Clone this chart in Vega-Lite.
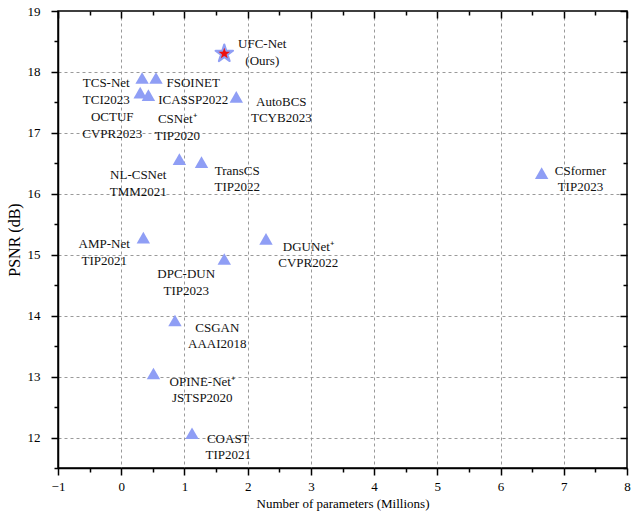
{
  "$schema": "https://vega.github.io/schema/vega-lite/v6.json",
  "width": 569,
  "height": 457,
  "autosize": {"type": "none"},
  "padding": {"left": 58, "top": 11, "right": 8, "bottom": 50},
  "background": "white",
  "config": {
    "view": {"stroke": "black", "strokeWidth": 1.5},
    "axis": {
      "labelFont": "Liberation Serif",
      "labelFontSize": 13,
      "labelColor": "black",
      "titleFont": "Liberation Serif",
      "titleFontSize": 13,
      "titleFontWeight": "normal",
      "titleColor": "black",
      "domainColor": "black",
      "domainWidth": 1.5,
      "tickColor": "black",
      "tickWidth": 1.5,
      "gridColor": "#9a9a9a",
      "gridDash": [3, 3],
      "gridWidth": 1
    }
  },
  "datasets": {
    "points": [
      {"name": "UFC-Net", "x": 1.63, "y": 18.30, "kind": "star"},
      {"name": "TCS-Net", "x": 0.33, "y": 17.90, "kind": "tri"},
      {"name": "FSOINET", "x": 0.55, "y": 17.90, "kind": "tri"},
      {"name": "OCTUF", "x": 0.30, "y": 17.66, "kind": "tri"},
      {"name": "CSNet+", "x": 0.43, "y": 17.62, "kind": "tri"},
      {"name": "AutoBCS", "x": 1.82, "y": 17.59, "kind": "tri"},
      {"name": "NL-CSNet", "x": 0.92, "y": 16.57, "kind": "tri"},
      {"name": "TransCS", "x": 1.27, "y": 16.52, "kind": "tri"},
      {"name": "AMP-Net", "x": 0.35, "y": 15.28, "kind": "tri"},
      {"name": "DGUNet+", "x": 2.29, "y": 15.26, "kind": "tri"},
      {"name": "DPC-DUN", "x": 1.63, "y": 14.93, "kind": "tri"},
      {"name": "CSGAN", "x": 0.85, "y": 13.92, "kind": "tri"},
      {"name": "OPINE-Net+", "x": 0.51, "y": 13.05, "kind": "tri"},
      {"name": "COAST", "x": 1.12, "y": 12.07, "kind": "tri"},
      {"name": "CSformer", "x": 6.65, "y": 16.34, "kind": "tri"}
    ],
    "labels": [
      {"label": "UFC-Net\n(Ours)", "x": 2.231, "y": 18.451},
      {"label": "TCS-Net\nTCI2023", "x": -0.237, "y": 17.811},
      {"label": "FSOINET\nICASSP2022", "x": 1.139, "y": 17.811},
      {"label": "OCTUF\nCVPR2023", "x": -0.142, "y": 17.254},
      {"label": "CSNet⁺\nTIP2020", "x": 0.886, "y": 17.221},
      {"label": "AutoBCS\nTCYB2023", "x": 2.532, "y": 17.508},
      {"label": "NL-CSNet\nTMM2021", "x": 0.269, "y": 16.303},
      {"label": "TransCS\nTIP2022", "x": 1.835, "y": 16.377},
      {"label": "AMP-Net\nTIP2021", "x": -0.269, "y": 15.172},
      {"label": "DGUNet⁺\nCVPR2022", "x": 2.959, "y": 15.131},
      {"label": "DPC-DUN\nTIP2023", "x": 1.028, "y": 14.68},
      {"label": "CSGAN\nAAAI2018", "x": 1.519, "y": 13.803},
      {"label": "OPINE-Net⁺\nJSTSP2020", "x": 1.282, "y": 12.918},
      {"label": "COAST\nTIP2021", "x": 1.693, "y": 11.984},
      {"label": "CSformer\nTIP2023", "x": 7.263, "y": 16.377}
    ]
  },
  "resolve": {"axis": {"x": "independent", "y": "independent"}},
  "layer": [
    {
      "data": {"name": "points"},
      "transform": [{"filter": "datum.kind === 'tri'"}],
      "mark": {"type": "point", "shape": "triangle-up", "filled": true, "size": 180, "color": "#8f9ef5", "opacity": 1},
      "encoding": {
        "x": {
          "field": "x", "type": "quantitative",
          "scale": {"domain": [-1, 8], "nice": false, "zero": false},
          "axis": {
            "orient": "bottom",
            "title": "Number of parameters (Millions)",
            "values": [-1, -0.5, 0, 0.5, 1, 1.5, 2, 2.5, 3, 3.5, 4, 4.5, 5, 5.5, 6, 6.5, 7, 7.5, 8],
            "labelExpr": "datum.value % 1 === 0 ? format(datum.value, 'd') : ''",
            "tickSize": {"condition": {"test": "datum.value % 1 === 0", "value": 7}, "value": 4},
            "grid": true,
            "gridOpacity": {"condition": {"test": "datum.value % 1 === 0 && datum.value > -1 && datum.value < 8", "value": 1}, "value": 0},
            "labelPadding": 5,
            "titlePadding": 4,
            "labelFlush": false,
            "labelOverlap": false
          }
        },
        "y": {
          "field": "y", "type": "quantitative",
          "scale": {"domain": [11.5, 19], "nice": false, "zero": false},
          "axis": {
            "orient": "left",
            "title": "PSNR (dB)",
            "titleFontSize": 16,
            "values": [11.5, 12, 12.5, 13, 13.5, 14, 14.5, 15, 15.5, 16, 16.5, 17, 17.5, 18, 18.5, 19],
            "labelExpr": "datum.value % 1 === 0 ? format(datum.value, 'd') : ''",
            "tickSize": {"condition": {"test": "datum.value % 1 === 0", "value": 7}, "value": 4},
            "grid": true,
            "gridOpacity": {"condition": {"test": "datum.value % 1 === 0 && datum.value > 11.5 && datum.value < 19", "value": 1}, "value": 0},
            "labelPadding": 11,
            "titlePadding": 5,
            "labelFlush": false,
            "labelOverlap": false
          }
        }
      }
    },
    {
      "data": {"name": "points"},
      "transform": [{"filter": "datum.kind === 'star'"}],
      "mark": {"type": "point", "shape": "M0,-1L0.225,-0.309L0.951,-0.309L0.363,0.118L0.588,0.809L0,0.382L-0.588,0.809L-0.363,0.118L-0.951,-0.309L-0.225,-0.309Z", "filled": true, "size": 340, "fill": "#ee1111", "stroke": "#8f9ef5", "strokeWidth": 2, "strokeJoin": "round", "opacity": 1},
      "encoding": {
        "x": {"field": "x", "type": "quantitative", "axis": null},
        "y": {"field": "y", "type": "quantitative", "axis": null}
      }
    },
    {
      "data": {"name": "labels"},
      "mark": {"type": "text", "font": "Liberation Serif", "fontSize": 13, "color": "#111111", "align": "center", "baseline": "middle", "lineBreak": "\n", "lineHeight": 16.5},
      "encoding": {
        "x": {
          "field": "x", "type": "quantitative",
          "axis": {
            "orient": "top", "title": null, "labels": false, "grid": false, "domain": false,
            "values": [-1, -0.5, 0, 0.5, 1, 1.5, 2, 2.5, 3, 3.5, 4, 4.5, 5, 5.5, 6, 6.5, 7, 7.5, 8],
            "tickSize": {"condition": {"test": "datum.value % 1 === 0", "value": -7}, "value": -4}
          }
        },
        "y": {
          "field": "y", "type": "quantitative",
          "axis": {
            "orient": "right", "title": null, "labels": false, "grid": false, "domain": false,
            "values": [11.5, 12, 12.5, 13, 13.5, 14, 14.5, 15, 15.5, 16, 16.5, 17, 17.5, 18, 18.5, 19],
            "tickSize": {"condition": {"test": "datum.value % 1 === 0", "value": -7}, "value": -4}
          }
        },
        "text": {"field": "label", "type": "nominal"}
      }
    }
  ]
}
